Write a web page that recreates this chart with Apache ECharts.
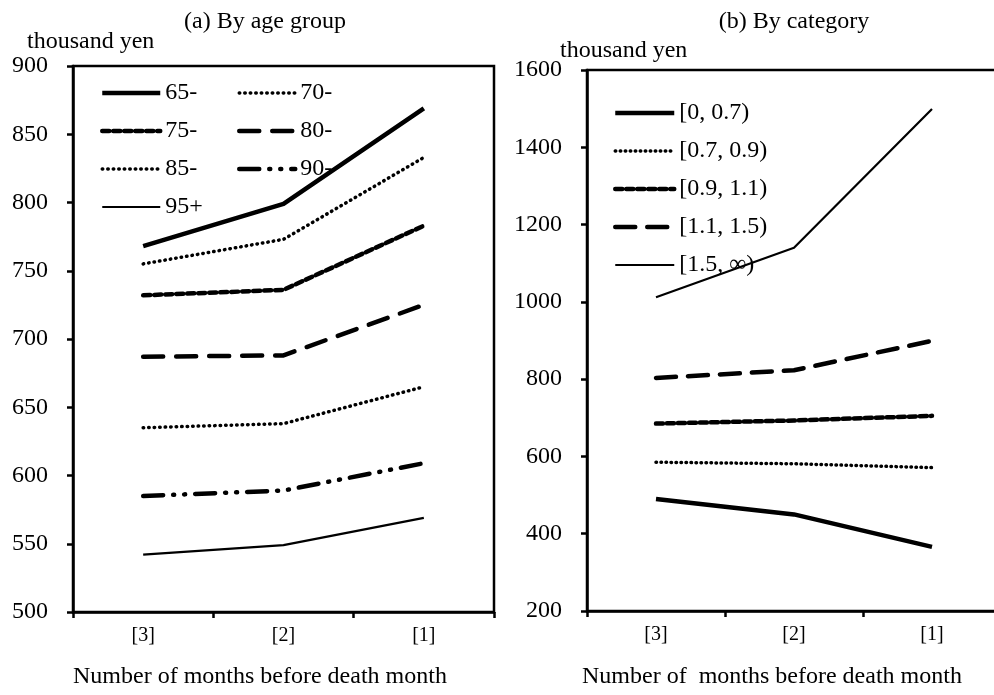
<!DOCTYPE html>
<html>
<head>
<meta charset="utf-8">
<script src="https://cdn.jsdelivr.net/npm/echarts@6/dist/echarts.min.js"></script>
<style>
  html, body { margin: 0; padding: 0; background: #fff; }
  #main { width: 994px; height: 695px; }
</style>
</head>
<body>
<div id="main"></div>
<script>
// months before death month
var months = ['[3]', '[2]', '[1]'];

// (a) by age group, thousand yen
var ageNames = ['65-', '70-', '75-', '80-', '85-', '90-', '95+'];
var age65 = [768, 799, 869];
var age70 = [755, 773, 833];
var age75 = [732, 736, 783];
var age80 = [687, 688, 725];
var age85 = [635, 638, 665];
var age90 = [585, 589, 609];
var age95 = [542, 549, 569];

// (b) by category, thousand yen
var catNames = ['[0, 0.7)', '[0.7, 0.9)', '[0.9, 1.1)', '[1.1, 1.5)', '[1.5, \u221e)'];
var cat1 = [490, 450, 366];
var cat2 = [585, 581, 571];
var cat3 = [685, 693, 705];
var cat4 = [803, 823, 899];
var cat5 = [1012, 1140, 1499];

var FONT = 'Liberation Serif';
var FS = 24;

// line look for each series (same order as the names)
var ageStyles = [
  { width: 4.5, type: 'solid' },
  { width: 3.5, type: [0.5, 5], cap: 'round' },
  { width: 4.5, type: [7, 4], cap: 'round' },
  { width: 4.5, type: [20, 13], cap: 'round' },
  { width: 3.5, type: [0.5, 5], cap: 'round' },
  { width: 4.5, type: [20, 10, 1, 10, 1, 10], cap: 'round' },
  { width: 2.2, type: 'solid' }
];
var catStyles = [
  { width: 4.5, type: 'solid' },
  { width: 3.5, type: [0.5, 4.5], cap: 'round' },
  { width: 4.5, type: [7, 4], cap: 'round' },
  { width: 4.5, type: [20, 12], cap: 'round' },
  { width: 2.2, type: 'solid' }
];

function lineOf(ls) {
  return { color: '#000', width: ls.width, type: ls.type, cap: ls.cap || 'butt', join: 'round' };
}

function makeSeries(names, datas, styles, idx) {
  var out = [];
  for (var i = 0; i < names.length; i++) {
    out.push({
      name: names[i],
      type: 'line',
      xAxisIndex: idx,
      yAxisIndex: idx,
      data: datas[i],
      symbol: 'none',
      silent: true,
      lineStyle: lineOf(styles[i]),
      itemStyle: { color: '#000' }
    });
  }
  return out;
}

// legend entries: keep the line, hide the symbol
function legendData(names, styles, pick) {
  var out = [];
  for (var i = 0; i < pick.length; i++) {
    var k = pick[i];
    out.push({ name: names[k], itemStyle: { opacity: 0 }, lineStyle: lineOf(styles[k]) });
  }
  return out;
}

function xAx(idx) {
  return {
    type: 'category', gridIndex: idx, data: months, boundaryGap: true,
    axisLine: { lineStyle: { color: '#000', width: 2.5 } },
    axisTick: { show: true, inside: false, length: 6, lineStyle: { color: '#000', width: 2.5 } },
    axisLabel: { color: '#000', fontFamily: FONT, fontSize: 20, margin: 14 }
  };
}
function yAx(idx, mn, mx, step) {
  return {
    type: 'value', gridIndex: idx, min: mn, max: mx, interval: step,
    splitLine: { show: false },
    axisLine: { show: true, lineStyle: { color: '#000', width: 2.5 } },
    axisTick: { show: true, inside: false, length: 6, lineStyle: { color: '#000', width: 2.5 } },
    axisLabel: { color: '#000', fontFamily: FONT, fontSize: FS, margin: 25,
      formatter: function (v) { return String(v); } }
  };
}

var legendText = { color: '#000', fontFamily: FONT, fontSize: FS };
var txtFont = FS + 'px "Liberation Serif"';

var chart = echarts.init(document.getElementById('main'));
chart.setOption({
  animation: false,
  backgroundColor: '#fff',
  title: [
    { text: '(a) By age group', left: 260, top: 5, textAlign: 'center',
      textStyle: { color: '#000', fontFamily: FONT, fontSize: FS, fontWeight: 'normal' } },
    { text: '(b) By category', left: 789, top: 5, textAlign: 'center',
      textStyle: { color: '#000', fontFamily: FONT, fontSize: FS, fontWeight: 'normal' } }
  ],
  graphic: [
    { type: 'text', left: 27, top: 30, style: { text: 'thousand yen', fill: '#000', font: txtFont } },
    { type: 'text', left: 560, top: 39, style: { text: 'thousand yen', fill: '#000', font: txtFont } },
    { type: 'text', left: 73, top: 665, style: { text: 'Number of months before death month', fill: '#000', font: txtFont } },
    { type: 'text', left: 582, top: 665, style: { text: 'Number of  months before death month', fill: '#000', font: txtFont } }
  ],
  legend: [
    { data: legendData(ageNames, ageStyles, [0, 2, 4, 6]), orient: 'vertical', left: 100, top: 81,
      padding: 0, itemWidth: 58, itemHeight: 14, itemGap: 14, textStyle: legendText, selectedMode: false },
    { data: legendData(ageNames, ageStyles, [1, 3, 5]), orient: 'vertical', left: 237, top: 81,
      padding: 0, itemWidth: 56, itemHeight: 14, itemGap: 14, textStyle: legendText, selectedMode: false },
    { data: legendData(catNames, catStyles, [0, 1, 2, 3, 4]), orient: 'vertical', left: 613, top: 101,
      padding: 0, itemWidth: 59, itemHeight: 14, itemGap: 14, textStyle: legendText, selectedMode: false }
  ],
  grid: [
    { left: 73, right: 500, top: 66, bottom: 83, show: true, borderColor: '#000', borderWidth: 2.5,
      outerBoundsMode: 'none' },
    { left: 587, width: 414, top: 70, bottom: 84, show: true, borderColor: '#000', borderWidth: 2.5,
      outerBoundsMode: 'none' }
  ],
  xAxis: [xAx(0), xAx(1)],
  yAxis: [yAx(0, 500, 900, 50), yAx(1, 200, 1600, 200)],
  series: makeSeries(ageNames, [age65, age70, age75, age80, age85, age90, age95], ageStyles, 0)
    .concat(makeSeries(catNames, [cat1, cat2, cat3, cat4, cat5], catStyles, 1))
});
</script>
</body>
</html>
